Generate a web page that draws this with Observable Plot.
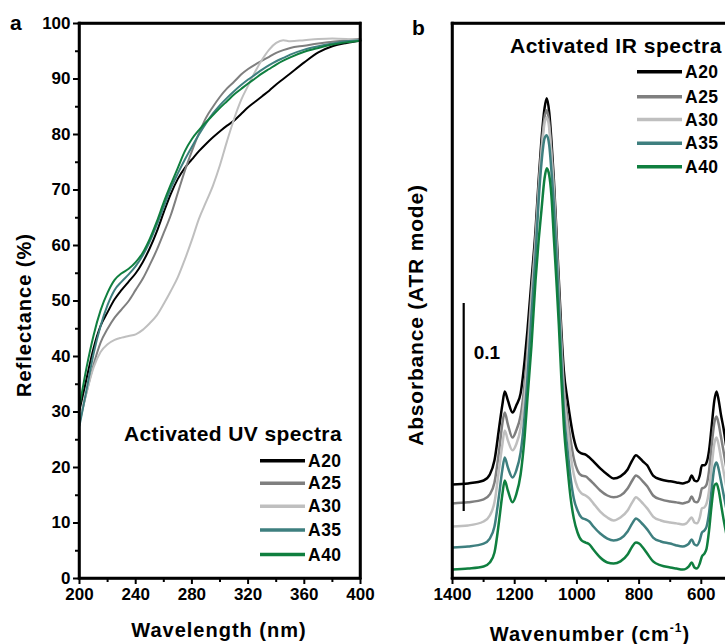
<!DOCTYPE html>
<html><head><meta charset="utf-8">
<script src="https://cdn.jsdelivr.net/npm/d3@7"></script>
<script src="https://cdn.jsdelivr.net/npm/@observablehq/plot@0.6"></script>
<style>
html,body{margin:0;padding:0;background:#fff;overflow:hidden;width:725px;height:644px;}
#wrap{position:relative;width:725px;height:644px;overflow:hidden;}
#pa{position:absolute;left:0;top:0;width:400px;height:644px;}
#pb{position:absolute;left:400px;top:0;width:400px;height:644px;}
#pa svg,#pb svg{max-width:none !important;width:400px;height:644px;}
#ov{position:absolute;left:0;top:0;pointer-events:none;}
</style></head>
<body><div id="wrap"><div id="pa"></div><div id="pb"></div><svg id="ov" width="725" height="644"></svg></div>
<script>
const FONT = "'Liberation Sans', Arial, Helvetica, sans-serif";
const SERIES = ["A20","A25","A30","A35","A40"];
const COLORS = ["#000000","#7f7f7f","#bfbfbf","#3e7f7f","#0f7f3f"];

// Panel a: UV reflectance (%)
const WL = [200,205,210,215,220,225,230,235,240,245,250,255,260,265,270,275,280,285,290,295,300,305,310,315,320,325,330,335,340,345,350,360,370,380,390,400];
const UV_A20 = [30.3,36,41.5,45.5,48,50.3,52,53.5,55,57,59.5,62.5,66,69.3,72,74,75.5,77,78.3,79.5,80.6,81.6,82.5,83.7,84.9,85.9,86.9,87.9,89,90,91,93,94.8,95.9,96.5,96.9];
const UV_A25 = [28,33.5,38.5,42.5,45,47,48.5,50,52,54,56.5,59.2,62.3,65.5,69.5,73.5,77,80.2,83,85,86.8,88.3,89.5,90.8,91.8,92.6,93.3,94,94.7,95.2,95.6,96,96.4,96.7,97,97.2];
const UV_A30 = [28.5,33.5,38,40.8,42.2,43,43.4,43.7,44,44.8,46,47.4,49.5,51.8,54.3,57.5,61,64.8,67.8,70.8,74.5,78.8,82.8,86.2,88.8,91.3,93.5,95.3,96.5,97,96.8,97,97.2,97.3,97.2,97];
const UV_A35 = [27.5,34,40.5,45.5,49.3,52,53.5,54.8,56.3,58.2,60.7,63.7,67,70.3,73,75.5,77.8,80,82,83.8,85.3,86.6,87.8,88.9,89.9,90.8,91.7,92.5,93.2,93.8,94.4,95.3,95.9,96.4,96.8,97];
const UV_A40 = [31,38,43.8,48.3,51.5,53.8,55,55.8,57,58.7,61.2,64.3,67.8,71,74,77,79.2,80.8,82.2,83.5,84.8,86,87.2,88.2,89.2,90.1,91,91.8,92.6,93.3,93.9,94.9,95.6,96.2,96.6,96.9];
const UV_X_DOMAIN = [200, 400];
const UV_Y_DOMAIN = [0, 100];
const UV_X_TICKS = [200,240,280,320,360,400];
const UV_X_MINOR = [220,260,300,340,380];
const UV_Y_TICKS = [0,10,20,30,40,50,60,70,80,90,100];
const UV_Y_MINOR = [5,15,25,35,45,55,65,75,85,95];

// Panel b: IR absorbance (stacked, ATR mode)
const NU = [1400,1350,1300,1280,1265,1250,1240,1232,1222,1207,1195,1181,1168,1159,1146,1133,1123,1114,1104,1097,1089,1082,1074,1066,1058,1050,1042,1030,1020,1010,998,985,972,960,947,925,902,882,860,837,822,810,800,788,774,755,730,700,680,660,648,640,631,622,614,605,598,590,583,575,567,558,551,544,537,529,515,500,480];
const IR_A20 = [0.0452,0.0457,0.0471,0.0500,0.0568,0.0726,0.0832,0.0899,0.0856,0.0798,0.0832,0.0890,0.1049,0.1193,0.1433,0.1674,0.1914,0.2107,0.2261,0.2309,0.2241,0.2107,0.1914,0.1674,0.1433,0.1193,0.1000,0.0856,0.0755,0.0673,0.0616,0.0601,0.0596,0.0582,0.0563,0.0529,0.0500,0.0481,0.0491,0.0524,0.0568,0.0592,0.0582,0.0563,0.0544,0.0495,0.0476,0.0467,0.0462,0.0457,0.0462,0.0467,0.0495,0.0471,0.0467,0.0495,0.0544,0.0544,0.0558,0.0616,0.0726,0.0856,0.0899,0.0856,0.0789,0.0726,0.0592,0.0510,0.0481];
const IR_A25 = [0.0361,0.0366,0.0380,0.0404,0.0462,0.0616,0.0741,0.0798,0.0741,0.0678,0.0712,0.0784,0.0938,0.1097,0.1376,0.1635,0.1881,0.2068,0.2217,0.2251,0.2193,0.2059,0.1876,0.1635,0.1385,0.1145,0.0928,0.0770,0.0664,0.0577,0.0519,0.0495,0.0491,0.0476,0.0457,0.0423,0.0399,0.0390,0.0399,0.0433,0.0471,0.0495,0.0486,0.0467,0.0443,0.0399,0.0380,0.0370,0.0366,0.0361,0.0366,0.0370,0.0394,0.0370,0.0366,0.0390,0.0433,0.0438,0.0452,0.0519,0.0635,0.0750,0.0779,0.0741,0.0683,0.0616,0.0495,0.0414,0.0385];
const IR_A30 = [0.0250,0.0255,0.0274,0.0303,0.0366,0.0529,0.0640,0.0712,0.0664,0.0616,0.0645,0.0722,0.0880,0.1049,0.1337,0.1607,0.1857,0.2044,0.2189,0.2217,0.2165,0.2035,0.1857,0.1616,0.1361,0.1111,0.0890,0.0722,0.0592,0.0500,0.0438,0.0409,0.0399,0.0385,0.0361,0.0322,0.0293,0.0279,0.0293,0.0327,0.0366,0.0390,0.0380,0.0361,0.0337,0.0298,0.0279,0.0269,0.0265,0.0260,0.0265,0.0279,0.0293,0.0269,0.0265,0.0293,0.0337,0.0342,0.0361,0.0423,0.0534,0.0649,0.0678,0.0640,0.0582,0.0519,0.0404,0.0317,0.0279];
const IR_A35 = [0.0149,0.0154,0.0168,0.0192,0.0250,0.0404,0.0520,0.0582,0.0534,0.0486,0.0519,0.0606,0.0784,0.0962,0.1270,0.1554,0.1818,0.1996,0.2116,0.2131,0.2083,0.1962,0.1794,0.1563,0.1313,0.1049,0.0808,0.0616,0.0481,0.0385,0.0327,0.0293,0.0284,0.0274,0.0250,0.0216,0.0192,0.0183,0.0192,0.0226,0.0265,0.0289,0.0279,0.0260,0.0236,0.0197,0.0178,0.0168,0.0159,0.0154,0.0159,0.0168,0.0188,0.0164,0.0159,0.0183,0.0221,0.0231,0.0250,0.0317,0.0423,0.0534,0.0558,0.0524,0.0471,0.0409,0.0303,0.0221,0.0183];
const IR_A40 = [0.0043,0.0048,0.0058,0.0077,0.0125,0.0279,0.0400,0.0471,0.0423,0.0366,0.0404,0.0500,0.0683,0.0866,0.1121,0.1433,0.1626,0.1770,0.1924,0.1972,0.1938,0.1842,0.1635,0.1433,0.1217,0.0962,0.0736,0.0529,0.0385,0.0289,0.0221,0.0183,0.0173,0.0164,0.0139,0.0101,0.0077,0.0072,0.0082,0.0115,0.0154,0.0173,0.0168,0.0149,0.0120,0.0082,0.0063,0.0053,0.0048,0.0043,0.0048,0.0058,0.0077,0.0053,0.0048,0.0072,0.0106,0.0120,0.0144,0.0231,0.0351,0.0447,0.0457,0.0423,0.0361,0.0289,0.0183,0.0106,0.0072];
const IR_X_DOMAIN = [1400, 400];
const IR_Y_DOMAIN = [0, 0.2668];
const IR_X_TICKS = [1400,1200,1000,800,600];
const IR_X_MINOR = [1300,1100,900,700];
const SCALE_BAR = [{nu: 1364, from: 0.0322, length: 0.1, label: "0.1"}];

const UV = [UV_A20, UV_A25, UV_A30, UV_A35, UV_A40];
const IR = [IR_A20, IR_A25, IR_A30, IR_A35, IR_A40];
const uvData = SERIES.flatMap((s, i) => WL.map((w, j) => ({series: s, x: w, y: UV[i][j]})));
const irData = SERIES.flatMap((s, i) => NU.map((n, j) => ({series: s, x: n, y: IR[i][j]})));

const style = {fontFamily: FONT, fontWeight: "bold", fontSize: "17px", color: "#000", background: "transparent", overflow: "visible", maxWidth: "none"};
const fmt = d => String(d);
const FRAME = {stroke: "#000", strokeWidth: 2.5, strokeLinecap: "square"};

const pa = Plot.plot({
  width: 400, height: 644,
  marginLeft: 79, marginRight: 40, marginTop: 23, marginBottom: 66,
  x: {domain: UV_X_DOMAIN, label: null},
  y: {domain: UV_Y_DOMAIN, label: null},
  color: {domain: SERIES, range: COLORS},
  style,
  marks: [
    Plot.line(uvData, {x: "x", y: "y", z: "series", stroke: "series", strokeWidth: 2, curve: "monotone-x"}),
    Plot.axisX({ticks: UV_X_TICKS, tickFormat: fmt, tickSize: 6, tickPadding: 3, strokeWidth: 2, label: null, fontSize: 17}),
    Plot.axisX({ticks: UV_X_MINOR, tickSize: 4, strokeWidth: 2, tickFormat: () => "", label: null}),
    Plot.axisY({ticks: UV_Y_TICKS, tickFormat: fmt, tickSize: 6, tickPadding: 3, strokeWidth: 2, label: null, fontSize: 17}),
    Plot.axisY({ticks: UV_Y_MINOR, tickSize: 4, strokeWidth: 2, tickFormat: () => "", label: null}),
    Plot.ruleX(UV_X_DOMAIN, FRAME),
    Plot.ruleY(UV_Y_DOMAIN, FRAME)
  ]
});
document.getElementById("pa").append(pa);

const pb = Plot.plot({
  width: 400, height: 644,
  marginLeft: 52, marginRight: 37, marginTop: 23, marginBottom: 66,
  x: {domain: IR_X_DOMAIN, label: null},
  y: {domain: IR_Y_DOMAIN, axis: null},
  color: {domain: SERIES, range: COLORS},
  style,
  marks: [
    Plot.line(irData, {x: "x", y: "y", z: "series", stroke: "series", strokeWidth: 2.5, curve: "monotone-x"}),
    Plot.ruleX(SCALE_BAR, {x: "nu", y1: "from", y2: d => d.from + d.length, strokeWidth: 2.2}),
    Plot.text(SCALE_BAR, {x: "nu", y: d => d.from + d.length, text: "label", dx: 10, dy: 49, textAnchor: "start", fontSize: 19, fontWeight: "bold"}),
    Plot.axisX({ticks: IR_X_TICKS, tickFormat: fmt, tickSize: 6, tickPadding: 3, strokeWidth: 2, label: null, fontSize: 17}),
    Plot.axisX({ticks: IR_X_MINOR, tickSize: 4, strokeWidth: 2, tickFormat: () => "", label: null}),
    Plot.ruleX(IR_X_DOMAIN, FRAME),
    Plot.ruleY(IR_Y_DOMAIN, FRAME)
  ]
});
document.getElementById("pb").append(pb);

// Overlay: frames (from the plots' own scales), titles, axis labels, legends
const ov = d3.select("#ov").style("font-family", FONT).style("font-weight", "bold");
function frameFromScales(plot, xd, yd, offset) {
  const sx = plot.scale("x"), sy = plot.scale("y");
  const x0 = sx.apply(xd[0]) + offset, x1 = sx.apply(xd[1]) + offset;
  const y0 = sy.apply(yd[0]), y1 = sy.apply(yd[1]);
  ov.append("rect").attr("x", Math.min(x0, x1)).attr("y", Math.min(y0, y1))
    .attr("width", Math.abs(x1 - x0)).attr("height", Math.abs(y1 - y0))
    .attr("fill", "none").attr("stroke", "#000").attr("stroke-width", 2.5);
}
frameFromScales(pa, UV_X_DOMAIN, UV_Y_DOMAIN, 0);
frameFromScales(pb, IR_X_DOMAIN, IR_Y_DOMAIN, 400);

function txt(x, y, s, size, opts = {}) {
  const t = ov.append("text").attr("x", x).attr("y", y).attr("font-size", size).attr("fill", "#000")
    .attr("text-anchor", opts.anchor || "start").style("letter-spacing", (opts.ls || 0) + "px").text(s);
  if (opts.rotate) t.attr("transform", `rotate(-90 ${x} ${y})`);
  return t;
}
txt(10, 30, "a", 21);
txt(412, 35, "b", 21);
txt(31, 315, "Reflectance (%)", 20, {anchor: "middle", rotate: true, ls: 1});
txt(219, 637, "Wavelength (nm)", 20, {anchor: "middle", ls: 1});
const wn = txt(590, 641, "Wavenumber (cm", 20, {anchor: "middle", ls: 1});
wn.append("tspan").attr("font-size", 12).attr("dy", -9).text("-1");
wn.append("tspan").attr("dy", 9).text(")");
txt(423, 315, "Absorbance (ATR mode)", 21, {anchor: "middle", rotate: true, ls: 0.8});

// legend a
txt(342, 441, "Activated UV spectra", 21, {anchor: "end", ls: 0.4});
const legA = [460.8, 483.2, 506.3, 530, 554.5];
SERIES.forEach((s, i) => {
  ov.append("line").attr("x1", 260).attr("x2", 305).attr("y1", legA[i]).attr("y2", legA[i])
    .attr("stroke", COLORS[i]).attr("stroke-width", 3.5);
  txt(308, legA[i] + 6, s, 17.5, {ls: 0.5});
});
// legend b
txt(510, 53, "Activated IR spectra", 21, {ls: 0.5});
const legB = [71.7, 96.7, 119.5, 143.3, 166.7];
SERIES.forEach((s, i) => {
  ov.append("line").attr("x1", 637).attr("x2", 682).attr("y1", legB[i]).attr("y2", legB[i])
    .attr("stroke", COLORS[i]).attr("stroke-width", 3.5);
  txt(685, legB[i] + 6, s, 17.5, {ls: 0.5});
});
</script>
</body></html>
